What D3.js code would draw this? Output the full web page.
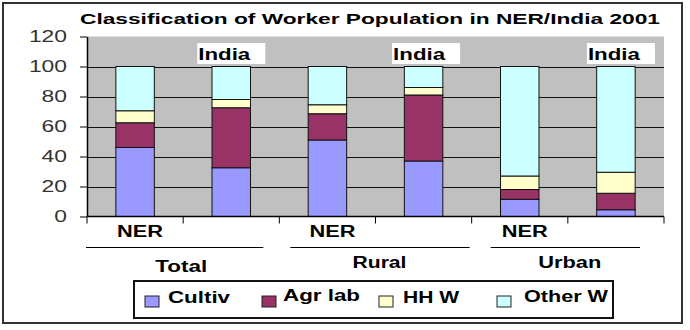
<!DOCTYPE html>
<html>
<head>
<meta charset="utf-8">
<script src="https://cdn.jsdelivr.net/npm/d3@7"></script>
<style>
  body { margin: 0; background: #fff; }
  text { font-family: "Liberation Sans", Arial, sans-serif; }
</style>
</head>
<body>
<svg id="chart" width="690" height="330"></svg>
<script>
// data (percent of workers)
const bars = ["Total NER", "Total India", "Rural NER", "Rural India", "Urban NER", "Urban India"]
const regions = ["NER", "India", "NER", "India", "NER", "India"]
const groups = ["Total", "Rural", "Urban"]
const series = ["Cultiv", "Agr lab", "HH W", "Other W"]
const cultiv = [46, 32.5, 51, 37, 11.5, 4.5]
const agrLab = [16.5, 40, 17.5, 44, 6.5, 11]
const hhW = [8, 5.5, 6, 5, 9, 14]
const otherW = [29.5, 22, 25.5, 14, 73, 70.5]
const yTicks = [0, 20, 40, 60, 80, 100, 120]

const colors = ["#9999ff", "#993366", "#ffffcc", "#ccffff"]

const rows = bars.map(function (b, i) {
  return { bar: b, region: regions[i], "Cultiv": cultiv[i], "Agr lab": agrLab[i], "HH W": hhW[i], "Other W": otherW[i] }
})

const svg = d3.select("#chart")

// outer frame
svg.append("rect")
  .attr("x", 3).attr("y", 3)
  .attr("width", 679).attr("height", 320)
  .attr("fill", "#fff").attr("stroke", "#333").attr("stroke-width", 2)

svg.append("text")
  .attr("x", 80).attr("y", 24)
  .attr("textLength", 580).attr("lengthAdjust", "spacingAndGlyphs")
  .attr("font-size", 15).attr("font-weight", "bold")
  .text("Classification of Worker Population in NER/India 2001")

const x = d3.scaleBand()
  .domain(bars)
  .range([87, 664])
  .paddingInner(0.6)
  .paddingOuter(0.3)

const y = d3.scaleLinear()
  .domain([0, 120])
  .range([216.5, 36.5])

const color = d3.scaleOrdinal().domain(series).range(colors)

// plot background
svg.append("rect")
  .attr("x", 87).attr("y", y(120))
  .attr("width", 664 - 87).attr("height", y(0) - y(120))
  .attr("fill", "#c0c0c0")

// gridlines
svg.append("g")
  .selectAll("line")
  .data(yTicks.filter(function (d) { return d > 0 && d < 120 }))
  .enter()
  .append("line")
  .attr("x1", 87).attr("x2", 664)
  .attr("y1", function (d) { return Math.round(y(d)) + 0.5 })
  .attr("y2", function (d) { return Math.round(y(d)) + 0.5 })
  .attr("stroke", "#111").attr("stroke-width", 1)

// stacked bars
const stack = d3.stack().keys(series)(rows)

svg.append("g")
  .selectAll("g")
  .data(stack)
  .enter()
  .append("g")
  .attr("fill", function (d) { return color(d.key) })
  .selectAll("rect")
  .data(function (d) { return d })
  .enter()
  .append("rect")
  .attr("x", function (d) { return x(d.data.bar) })
  .attr("width", x.bandwidth())
  .attr("y", function (d) { return y(d[1]) })
  .attr("height", function (d) { return y(d[0]) - y(d[1]) })
  .attr("stroke", "#111").attr("stroke-width", 1)

// y axis
const yAxis = svg.append("g")
  .attr("transform", "translate(87,0)")
  .call(d3.axisLeft(y).tickValues(yTicks).tickSize(7).tickSizeOuter(0).tickPadding(13))
yAxis.select(".domain").attr("stroke", "#000").attr("stroke-width", 1.5)
yAxis.selectAll(".tick line").attr("stroke", "#000")
yAxis.selectAll(".tick text")
  .attr("font-size", 16)
  .attr("fill", "#333")
  .attr("font-family", "Liberation Sans, Arial, sans-serif")
  .attr("textLength", function (d) { return String(d).length * 12.7 })
  .attr("lengthAdjust", "spacingAndGlyphs")

// x axis line and category dividers
svg.append("line")
  .attr("x1", 87).attr("x2", 664)
  .attr("y1", y(0)).attr("y2", y(0))
  .attr("stroke", "#000").attr("stroke-width", 1.5)

svg.append("g")
  .selectAll("line")
  .data(d3.range(bars.length + 1))
  .enter()
  .append("line")
  .attr("x1", function (i) { return 87 + i * x.step() })
  .attr("x2", function (i) { return 87 + i * x.step() })
  .attr("y1", y(0)).attr("y2", y(0) + 7)
  .attr("stroke", "#000")

// NER labels below, India labels in boxes above
const nerRows = rows.filter(function (r) { return r.region === "NER" })
svg.append("g")
  .selectAll("text")
  .data(nerRows)
  .enter()
  .append("text")
  .attr("x", function (d) { return x(d.bar) + x.bandwidth() / 2 + 5 })
  .attr("y", 237)
  .attr("text-anchor", "middle")
  .attr("font-size", 16).attr("font-weight", "bold")
  .attr("textLength", 46).attr("lengthAdjust", "spacingAndGlyphs")
  .text(function (d) { return d.region })

const indiaRows = rows.filter(function (r) { return r.region === "India" })
const indiaBox = svg.append("g")
  .selectAll("g")
  .data(indiaRows)
  .enter()
  .append("g")
  .attr("transform", function (d, i) {
    return "translate(" + (x(d.bar) + x.bandwidth() / 2 + i * 2.5) + ",0)"
  })
indiaBox.append("rect")
  .attr("x", -34).attr("y", 43)
  .attr("width", 68).attr("height", 21)
  .attr("fill", "#fff")
indiaBox.append("text")
  .attr("x", -33).attr("y", 60)
  .attr("font-size", 16).attr("font-weight", "bold")
  .attr("textLength", 52).attr("lengthAdjust", "spacingAndGlyphs")
  .text(function (d) { return d.region })

// group separators and labels
const groupLine = [[-1, -16], [11, -2], [19, -24]]
const groupLabelY = [272, 268, 268]
const groupLabelW = [52, 54, 63]
const groupLabelDx = [-2, 4, 2]
const groupG = svg.append("g")
  .selectAll("g")
  .data(groups)
  .enter()
  .append("g")
groupG.append("line")
  .attr("x1", function (d, i) { return 87 + 2 * i * x.step() + groupLine[i][0] })
  .attr("x2", function (d, i) { return 87 + 2 * (i + 1) * x.step() + groupLine[i][1] })
  .attr("y1", 247.5).attr("y2", 247.5)
  .attr("stroke", "#000")
groupG.append("text")
  .attr("x", function (d, i) { return 87 + (2 * i + 1) * x.step() + groupLabelDx[i] })
  .attr("y", function (d, i) { return groupLabelY[i] })
  .attr("text-anchor", "middle")
  .attr("font-size", 16).attr("font-weight", "bold")
  .attr("textLength", function (d, i) { return groupLabelW[i] })
  .attr("lengthAdjust", "spacingAndGlyphs")
  .text(function (d) { return d })

// legend
svg.append("rect")
  .attr("x", 134).attr("y", 281)
  .attr("width", 479).attr("height", 37)
  .attr("fill", "#fff").attr("stroke", "#111").attr("stroke-width", 2)

const legSwatchX = [145, 262, 379, 497]
const legTextX = [168, 283, 403, 524]
const legTextW = [62, 77, 56, 84]
const legTextY = [303, 300.5, 303, 301.5]
const leg = svg.append("g")
  .selectAll("g")
  .data(series)
  .enter()
  .append("g")
leg.append("rect")
  .attr("x", function (d, i) { return legSwatchX[i] })
  .attr("y", 296)
  .attr("width", 14).attr("height", 11)
  .attr("fill", function (d) { return color(d) })
  .attr("stroke", "#222")
leg.append("text")
  .attr("x", function (d, i) { return legTextX[i] })
  .attr("y", function (d, i) { return legTextY[i] })
  .attr("font-size", 16).attr("font-weight", "bold")
  .attr("textLength", function (d, i) { return legTextW[i] })
  .attr("lengthAdjust", "spacingAndGlyphs")
  .text(function (d) { return d })
</script>
</body>
</html>
